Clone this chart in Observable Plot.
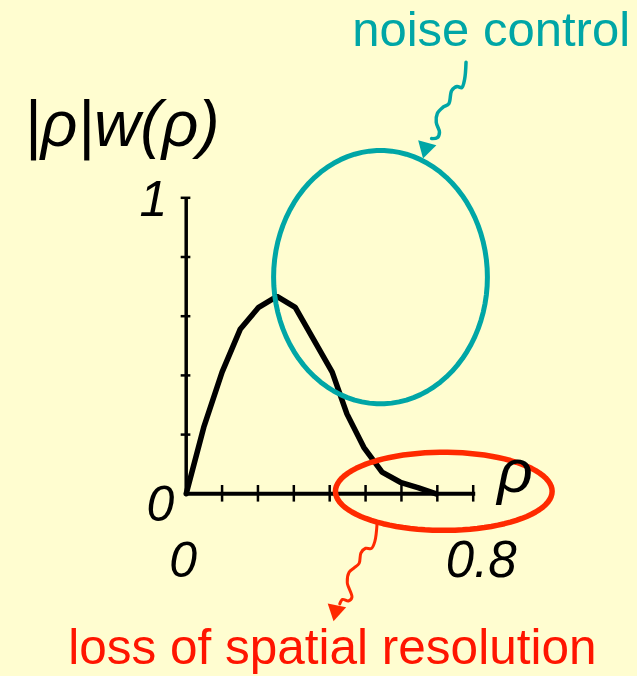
<!DOCTYPE html>
<html><head><meta charset="utf-8">
<script src="https://cdn.jsdelivr.net/npm/d3@7"></script>
<script src="https://cdn.jsdelivr.net/npm/@observablehq/plot@0.6"></script>
<style>
html,body{margin:0;padding:0;background:#FFFDD0;}
#chart svg{display:block;}
</style>
</head><body><div id="chart"></div>
<script>
// curve |rho| w(rho)
const rho    = [0, 0.049, 0.100, 0.151, 0.202, 0.253, 0.304, 0.407, 0.448, 0.495, 0.546, 0.597, 0.648, 0.697];
const weight = [0, 0.225, 0.411, 0.557, 0.630, 0.667, 0.630, 0.411, 0.270, 0.157, 0.073, 0.039, 0.020, 0.000];
const xTicks = [0.1, 0.2, 0.3, 0.4, 0.5, 0.6, 0.7, 0.8];
const yTicks = [0.2, 0.4, 0.6, 0.8, 1.0];
const xTickLabels = ["0", "0.8"];
const yTickLabels = ["0", "1"];
const axisTitleY = "|ρ|w(ρ)";
const axisTitleX = "ρ";
const noiseLabel = "noise control";
const lossLabel = "loss of spatial resolution";
// annotation ellipses (data units): centre and radii
const noiseEllipse = {cx: 0.5416, cy: 0.732, rx: 0.298, ry: 0.428};
const lossEllipse  = {cx: 0.718, cy: 0.0084, rx: 0.302, ry: 0.132};
// squiggly leader lines (data units)
const noiseSquiggleX = [0.780, 0.776, 0.768, 0.755, 0.740, 0.732, 0.716, 0.700, 0.697, 0.706, 0.700, 0.684];
const noiseSquiggleY = [1.458, 1.400, 1.372, 1.376, 1.362, 1.318, 1.306, 1.285, 1.255, 1.222, 1.203, 1.200];
const lossSquiggleX = [0.532, 0.526, 0.516, 0.500, 0.487, 0.482, 0.468, 0.454, 0.449, 0.462, 0.452, 0.436, 0.428];
const lossSquiggleY = [-0.101, -0.160, -0.185, -0.184, -0.200, -0.235, -0.250, -0.265, -0.300, -0.350, -0.362, -0.357, -0.372];
const noiseHead = {x: 0.668, y: 1.168};
const lossHead  = {x: 0.417, y: -0.395};

const teal = "#00A6A6";
const red = "#FF2A00";
const textRed = "#FF1500";
const font = "'Liberation Sans', Arial, sans-serif";

const curve = rho.map((r, i) => ({rho: r, w: weight[i]}));
function ellipsePts(e) {
  return d3.range(0, 361, 4).map(a => {
    const t = a * Math.PI / 180;
    return {x: e.cx + e.rx * Math.cos(t), y: e.cy + e.ry * Math.sin(t)};
  });
}
const noiseSq = noiseSquiggleX.map((x, i) => ({x, y: noiseSquiggleY[i]}));
const lossSq = lossSquiggleX.map((x, i) => ({x, y: lossSquiggleY[i]}));

const chart = Plot.plot({
  width: 637,
  height: 676,
  margin: 0,
  style: {background: "#FFFDD0", fontFamily: font, overflow: "visible"},
  x: {domain: [0, 0.8], range: [185.7, 472.7], axis: null},
  y: {domain: [0, 1], range: [493.3, 197.3], axis: null},
  marks: [
    // axes
    Plot.ruleY([0], {x1: 0, x2: 0.807, stroke: "black", strokeWidth: 4}),
    Plot.ruleX([0], {y1: 0, y2: 1, stroke: "black", strokeWidth: 3.5}),
    Plot.ruleX(xTicks, {x: d => d, y1: -0.028, y2: 0.028, stroke: "black", strokeWidth: 2.5}),
    Plot.ruleY(yTicks, {y: d => d, x1: -0.014, x2: 0.013, stroke: "black", strokeWidth: 2.5}),
    // curve
    Plot.line(curve, {x: "rho", y: "w", stroke: "black", strokeWidth: 5.5, strokeLinejoin: "miter"}),
    // ellipses
    Plot.line(ellipsePts(noiseEllipse), {x: "x", y: "y", curve: "linear-closed", stroke: teal, strokeWidth: 5}),
    Plot.line(ellipsePts(lossEllipse), {x: "x", y: "y", curve: "linear-closed", stroke: red, strokeWidth: 5.5}),
    // squiggles
    Plot.line(noiseSq, {x: "x", y: "y", curve: "catmull-rom", stroke: teal, strokeWidth: 3.5}),
    Plot.dot([noiseHead], {x: "x", y: "y", symbol: "triangle", r: 7, fill: teal, rotate: 195}),
    Plot.line(lossSq, {x: "x", y: "y", curve: "catmull-rom", stroke: red, strokeWidth: 3}),
    Plot.dot([lossHead], {x: "x", y: "y", symbol: "triangle", r: 7, fill: red, rotate: 192}),
    // tick labels
    Plot.text([xTickLabels[0]], {x: 0, y: 0, text: d => d, dy: 67, dx: -3, fontSize: 50, fontStyle: "italic", fill: "black"}),
    Plot.text([xTickLabels[1]], {x: 0.8, y: 0, text: d => d, dy: 67, dx: 8, fontSize: 51, fontStyle: "italic", fill: "black"}),
    Plot.text([yTickLabels[0]], {x: 0, y: 0, text: d => d, textAnchor: "end", dx: -12, dy: 11, fontSize: 50, fontStyle: "italic", fill: "black"}),
    Plot.text([yTickLabels[1]], {x: 0, y: 1, text: d => d, textAnchor: "end", dx: -19, dy: 2, fontSize: 50, fontStyle: "italic", fill: "black"}),
    // axis titles
    Plot.text([axisTitleY], {x: 0, y: 1, text: d => d, textAnchor: "start", dx: -162, dy: -72, fontSize: 64, fontStyle: "italic", fill: "black"}),
    Plot.text([axisTitleX], {x: 0.8, y: 0, text: d => d, textAnchor: "start", dx: 24, dy: -22, fontSize: 62, fontStyle: "italic", fill: "black"}),
    // annotations
    Plot.text([noiseLabel], {x: 0.8, y: 1, text: d => d, textAnchor: "start", dx: -121, dy: -167, fontSize: 49, fill: teal}),
    Plot.text([lossLabel], {x: 0, y: 0, text: d => d, textAnchor: "start", dx: -118, dy: 154, fontSize: 49.5, fill: textRed})
  ]
});
document.getElementById("chart").append(chart);
</script>
</body></html>
